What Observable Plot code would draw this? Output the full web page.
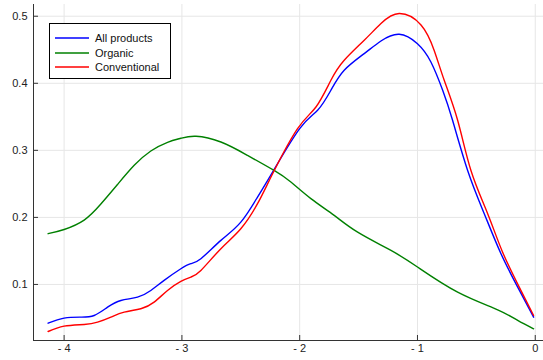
<!DOCTYPE html>
<html>
<head>
<meta charset="utf-8">
<script src="https://cdn.jsdelivr.net/npm/d3@7"></script>
<script src="https://cdn.jsdelivr.net/npm/@observablehq/plot@0.6"></script>
<style>
  html, body { margin: 0; padding: 0; background: #fff; }
  #wrap { position: relative; width: 543px; height: 360px; font-family: "Liberation Sans", Arial, Helvetica, sans-serif; }
  #legend { position: absolute; left: 49px; top: 23px; width: 122px; height: 56px; border: 1px solid #000; background: #fff; box-sizing: border-box; font-size: 11px; color: #111; }
  #legend .row { position: absolute; left: 5px; height: 14px; display: flex; align-items: center; }
  #legend .row svg { margin-right: 6px; }
</style>
</head>
<body>
<div id="wrap"><div id="chart"></div><div id="legend"></div></div>
<script>
const seriesNames = ["All products", "Organic", "Conventional"];
const seriesColors = ["#0000ff", "#008000", "#ff0000"];

const allX = [-4.136, -4.0, -3.858, -3.745, -3.631, -3.518, -3.377, -3.264, -3.151, -3.009, -2.924, -2.839, -2.669, -2.5, -2.358, -2.23, -2.0, -1.848, -1.735, -1.622, -1.452, -1.31, -1.155, -1.0, -0.886, -0.786, -0.702, -0.574, -0.433, -0.291, -0.149, -0.014];
const allY = [0.0422, 0.0497, 0.0512, 0.0537, 0.0661, 0.0761, 0.081, 0.091, 0.106, 0.1234, 0.131, 0.1384, 0.1657, 0.193, 0.2303, 0.2676, 0.3324, 0.3597, 0.3896, 0.4194, 0.4443, 0.4631, 0.4731, 0.459, 0.4318, 0.3896, 0.3448, 0.270, 0.2055, 0.1458, 0.096, 0.0512];

const orgX = [-4.136, -4.0, -3.83, -3.69, -3.547, -3.405, -3.264, -3.122, -3.009, -2.88, -2.669, -2.443, -2.217, -2.075, -1.905, -1.707, -1.508, -1.225, -1.0, -0.659, -0.319, -0.149, -0.014];
const orgY = [0.1757, 0.182, 0.196, 0.2195, 0.249, 0.2776, 0.299, 0.312, 0.318, 0.321, 0.3124, 0.2925, 0.270, 0.2527, 0.228, 0.203, 0.178, 0.1507, 0.126, 0.0885, 0.0622, 0.0463, 0.0339];

const convX = [-4.136, -4.0, -3.83, -3.716, -3.603, -3.49, -3.349, -3.236, -3.122, -3.009, -2.924, -2.839, -2.669, -2.5, -2.358, -2.23, -2.018, -1.862, -1.735, -1.622, -1.452, -1.31, -1.155, -0.97, -0.858, -0.773, -0.659, -0.546, -0.404, -0.277, -0.136, -0.014];
const convY = [0.0298, 0.0378, 0.0403, 0.0437, 0.0512, 0.0587, 0.0637, 0.0736, 0.091, 0.1045, 0.111, 0.1209, 0.1533, 0.183, 0.2204, 0.265, 0.3324, 0.3646, 0.4045, 0.4343, 0.4642, 0.4891, 0.504, 0.487, 0.449, 0.4045, 0.3448, 0.270, 0.2055, 0.148, 0.096, 0.0537];

const xTicks = [-4, -3, -2, -1, 0];
const xTickLabels = ["- 4", "- 3", "- 2", "- 1", "0"];
const yTicks = [0.1, 0.2, 0.3, 0.4, 0.5];
const yTickLabels = ["0.1", "0.2", "0.3", "0.4", "0.5"];

const xDomain = [-4.26, 0.07];
const yDomain = [0.0164, 0.5175];

const toRows = (xs, ys, name) => xs.map((x, i) => ({x, y: ys[i], series: name}));
const data = [
  ...toRows(allX, allY, seriesNames[0]),
  ...toRows(orgX, orgY, seriesNames[1]),
  ...toRows(convX, convY, seriesNames[2])
];

const W = 543, H = 360, mL = 33, mR = 0, mT = 4, mB = 20;
const innerW = W - mL - mR, innerH = H - mT - mB;

const chart = Plot.plot({
  width: W, height: H,
  marginLeft: mL, marginRight: mR, marginTop: mT, marginBottom: mB,
  style: {fontFamily: '"Liberation Sans", Arial, Helvetica, sans-serif', fontSize: "11px", color: "#222", background: "#fff"},
  x: {domain: xDomain},
  y: {domain: yDomain},
  color: {domain: seriesNames, range: seriesColors},
  marks: [
    Plot.gridX(xTicks, {stroke: "#e6e6e6", strokeOpacity: 1}),
    Plot.gridY(yTicks, {stroke: "#e6e6e6", strokeOpacity: 1}),
    Plot.axisX(xTicks, {tickSize: 0, tickPadding: 4, tickFormat: (d, i) => xTickLabels[i], label: null, fontSize: 11}),
    Plot.axisY(yTicks, {tickSize: 0, tickPadding: 6, tickFormat: (d, i) => yTickLabels[i], label: null, fontSize: 11}),
    Plot.tickX(xTicks, {x: d => d, insetTop: innerH - 5, stroke: "#333", strokeWidth: 1}),
    Plot.tickY(yTicks, {y: d => d, insetRight: innerW - 5, stroke: "#333", strokeWidth: 1}),
    Plot.ruleY([yDomain[0]], {stroke: "#333", strokeWidth: 1}),
    Plot.ruleX([xDomain[0]], {stroke: "#333", strokeWidth: 1}),
    Plot.line(data, {x: "x", y: "y", z: "series", stroke: "series", strokeWidth: 1.4, curve: "natural"})
  ]
});
document.getElementById("chart").appendChild(chart);

const legend = document.getElementById("legend");
seriesNames.forEach((name, i) => {
  const row = document.createElement("div");
  row.className = "row";
  row.style.top = (7 + i * 14.5) + "px";
  row.innerHTML = `<svg width="34" height="4"><line x1="0" y1="2" x2="34" y2="2" stroke="${seriesColors[i]}" stroke-width="1.5"/></svg><span>${name}</span>`;
  legend.appendChild(row);
});
</script>
</body>
</html>
